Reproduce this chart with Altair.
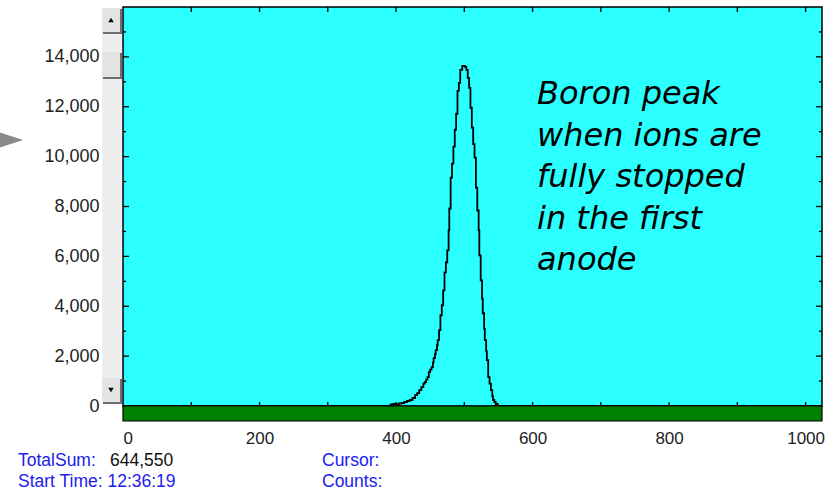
import altair as alt
import pandas as pd

# ---------------- data ----------------
channels = [0, 388, 392, 396, 400, 404, 408, 412, 416, 420, 424, 428, 431, 434, 437, 440,
            442, 444, 446, 448, 450, 452, 454, 455, 457, 458, 460, 461, 463, 465, 467, 469,
            471, 473, 475, 477, 478, 480, 482, 484, 486, 488, 490, 492, 494, 497, 501, 503,
            505, 507, 509, 511, 513, 515, 517, 519, 521, 522, 524, 526, 527, 529, 530, 532,
            533, 535, 537, 539, 541, 542, 544, 546, 549, 1024]
counts = [0, 0, 60, 80, 60, 100, 120, 160, 200, 240, 320, 440, 520, 640, 760, 900,
          960, 1060, 1160, 1360, 1460, 1560, 1740, 1920, 2080, 2240, 2440, 2640, 3040, 3640, 4040, 4640,
          5360, 5760, 6240, 7040, 7920, 9160, 9720, 10400, 11080, 11720, 12640, 12960, 13480, 13640, 13600, 13480,
          13160, 12760, 11960, 11160, 10500, 9960, 8760, 7840, 7040, 6040, 5040, 4300, 3720, 3100, 2640, 2200,
          1840, 1160, 900, 640, 400, 240, 160, 80, 0, 0]

x_label_values = [0, 200, 400, 600, 800, 1000]
x_tick_values = [100, 200, 300, 400, 500, 600, 700, 800, 900, 1000]
y_label_values = [0, 2000, 4000, 6000, 8000, 10000, 12000, 14000]
y_major_ticks = [2000, 4000, 6000, 8000, 10000, 12000, 14000]
y_minor_ticks = [1000, 3000, 5000, 7000, 9000, 11000, 13000, 15000]

annotation_lines = ["Boron peak", "when ions are", "fully stopped", "in the first", "anode"]
total_sum_label = "TotalSum:"
total_sum_value = "644,550"
start_time_text = "Start Time: 12:36:19"
cursor_label = "Cursor:"
counts_label = "Counts:"

# ---------------- layout ----------------
W, H = 699, 399
SANS = "Liberation Sans, Arial, sans-serif"
CYAN = "#2bffff"

xs = alt.Scale(domain=[0, 1024], nice=False, zero=False)
ys = alt.Scale(domain=[0, 16000], nice=False)

x_axis = alt.Axis(
    values=x_label_values, title=None, grid=False, ticks=False, domain=False,
    labelFlush=True, labelPadding=24, labelFont=SANS, labelFontSize=17,
    labelColor="#222222", format="d")
y_axis = alt.Axis(
    values=y_label_values, title=None, grid=False, ticks=False, domain=False,
    labelPadding=24, labelFont=SANS, labelFontSize=18, labelColor="#222222",
    format=",d")

df = pd.DataFrame({"channel": channels, "counts": counts})
one = pd.DataFrame({"k": [0]})

# spectrum (with axes)
spectrum = alt.Chart(df).mark_line(
    interpolate="step-after", color="#000000", strokeWidth=1.8, clip=True
).encode(
    x=alt.X("channel:Q", scale=xs, axis=x_axis),
    y=alt.Y("counts:Q", scale=ys, axis=y_axis),
)

# green band under the spectrum
band = alt.Chart(one).mark_rect(fill="#008000", stroke="#000000", strokeWidth=1.2).encode(
    x=alt.value(0), x2=alt.value(W), y=alt.value(H), y2=alt.value(H + 15)
)

xt = pd.DataFrame({"channel": x_tick_values})
x_ticks_bottom = alt.Chart(xt).mark_rule(color="#000000", strokeWidth=1.3).encode(
    x=alt.X("channel:Q", scale=xs, axis=x_axis), y=alt.value(H), y2=alt.value(H - 4))
x_ticks_top = alt.Chart(xt).mark_rule(color="#000000", strokeWidth=1.3).encode(
    x=alt.X("channel:Q", scale=xs, axis=x_axis), y=alt.value(0), y2=alt.value(5))

ymaj = pd.DataFrame({"counts": y_major_ticks})
ymin = pd.DataFrame({"counts": y_minor_ticks})
y_ticks = alt.layer(
    alt.Chart(ymaj).mark_rule(color="#000000", strokeWidth=1.3).encode(
        y=alt.Y("counts:Q", scale=ys, axis=y_axis), x=alt.value(0), x2=alt.value(6)),
    alt.Chart(ymin).mark_rule(color="#000000", strokeWidth=1.3).encode(
        y=alt.Y("counts:Q", scale=ys, axis=y_axis), x=alt.value(0), x2=alt.value(3)),
    alt.Chart(ymaj).mark_rule(color="#000000", strokeWidth=1.3).encode(
        y=alt.Y("counts:Q", scale=ys, axis=y_axis), x=alt.value(W - 6), x2=alt.value(W)),
    alt.Chart(ymin).mark_rule(color="#000000", strokeWidth=1.3).encode(
        y=alt.Y("counts:Q", scale=ys, axis=y_axis), x=alt.value(W - 3), x2=alt.value(W)),
)

# annotation
annot = alt.Chart(one).mark_text(
    font="DejaVu Sans", fontSize=32, fontStyle="italic", align="left",
    baseline="alphabetic", lineHeight=41.5, color="#000000"
).encode(x=alt.value(414), y=alt.value(97), text=alt.value(annotation_lines))

# status texts below
def status(txt, x, y, color):
    return alt.Chart(one).mark_text(
        font=SANS, fontSize=17.5, align="left", baseline="alphabetic", color=color
    ).encode(x=alt.value(x), y=alt.value(y), text=alt.value(txt))

BLUE = "#2020ee"
texts = alt.layer(
    status(total_sum_label, -105, 459, BLUE),
    status(total_sum_value, -13, 459, "#111111"),
    status(start_time_text, -105, 480, BLUE),
    status(cursor_label, 199, 459, BLUE),
    status(counts_label, 199, 480, BLUE),
)

# scrollbar decoration
def rect(x1, x2, y1, y2, fill):
    return alt.Chart(one).mark_rect(fill=fill).encode(
        x=alt.value(x1), x2=alt.value(x2), y=alt.value(y1), y2=alt.value(y2))

scroll = alt.layer(
    rect(-21, -1, 1, 397, "#eeeeee"),
    rect(-20, -1, 2, 27, "#707070"),
    rect(-21, -3, 1, 25, "#e4e4e4"),
    rect(-20, -1, 46, 72, "#707070"),
    rect(-21, -3, 45, 70, "#e4e4e4"),
    rect(-20, -1, 372, 397, "#707070"),
    rect(-21, -3, 371, 395, "#e4e4e4"),
    alt.Chart(one).mark_point(shape="triangle-up", filled=True, color="#000000", size=30, opacity=1).encode(
        x=alt.value(-12), y=alt.value(13)),
    alt.Chart(one).mark_point(shape="triangle-down", filled=True, color="#000000", size=30, opacity=1).encode(
        x=alt.value(-12), y=alt.value(383)),
)

arrow = alt.Chart(one).mark_point(
    shape="M-1,-0.65L1,0L-1,0.65Z", filled=True, color="#8a8a8a", size=700, opacity=1
).encode(x=alt.value(-113), y=alt.value(133))

chart = alt.layer(
    spectrum, band, x_ticks_bottom, x_ticks_top, y_ticks, annot, texts, scroll, arrow
).properties(
    width=W, height=H,
    autosize=alt.AutoSizeParams(type="none"),
    padding={"left": 123, "top": 7, "right": 7, "bottom": 85},
    background="#ffffff",
).configure_view(
    fill=CYAN, stroke="#000000", strokeWidth=1.5
)

chart.save("out.html", embed_options={"renderer": "svg", "actions": False})
